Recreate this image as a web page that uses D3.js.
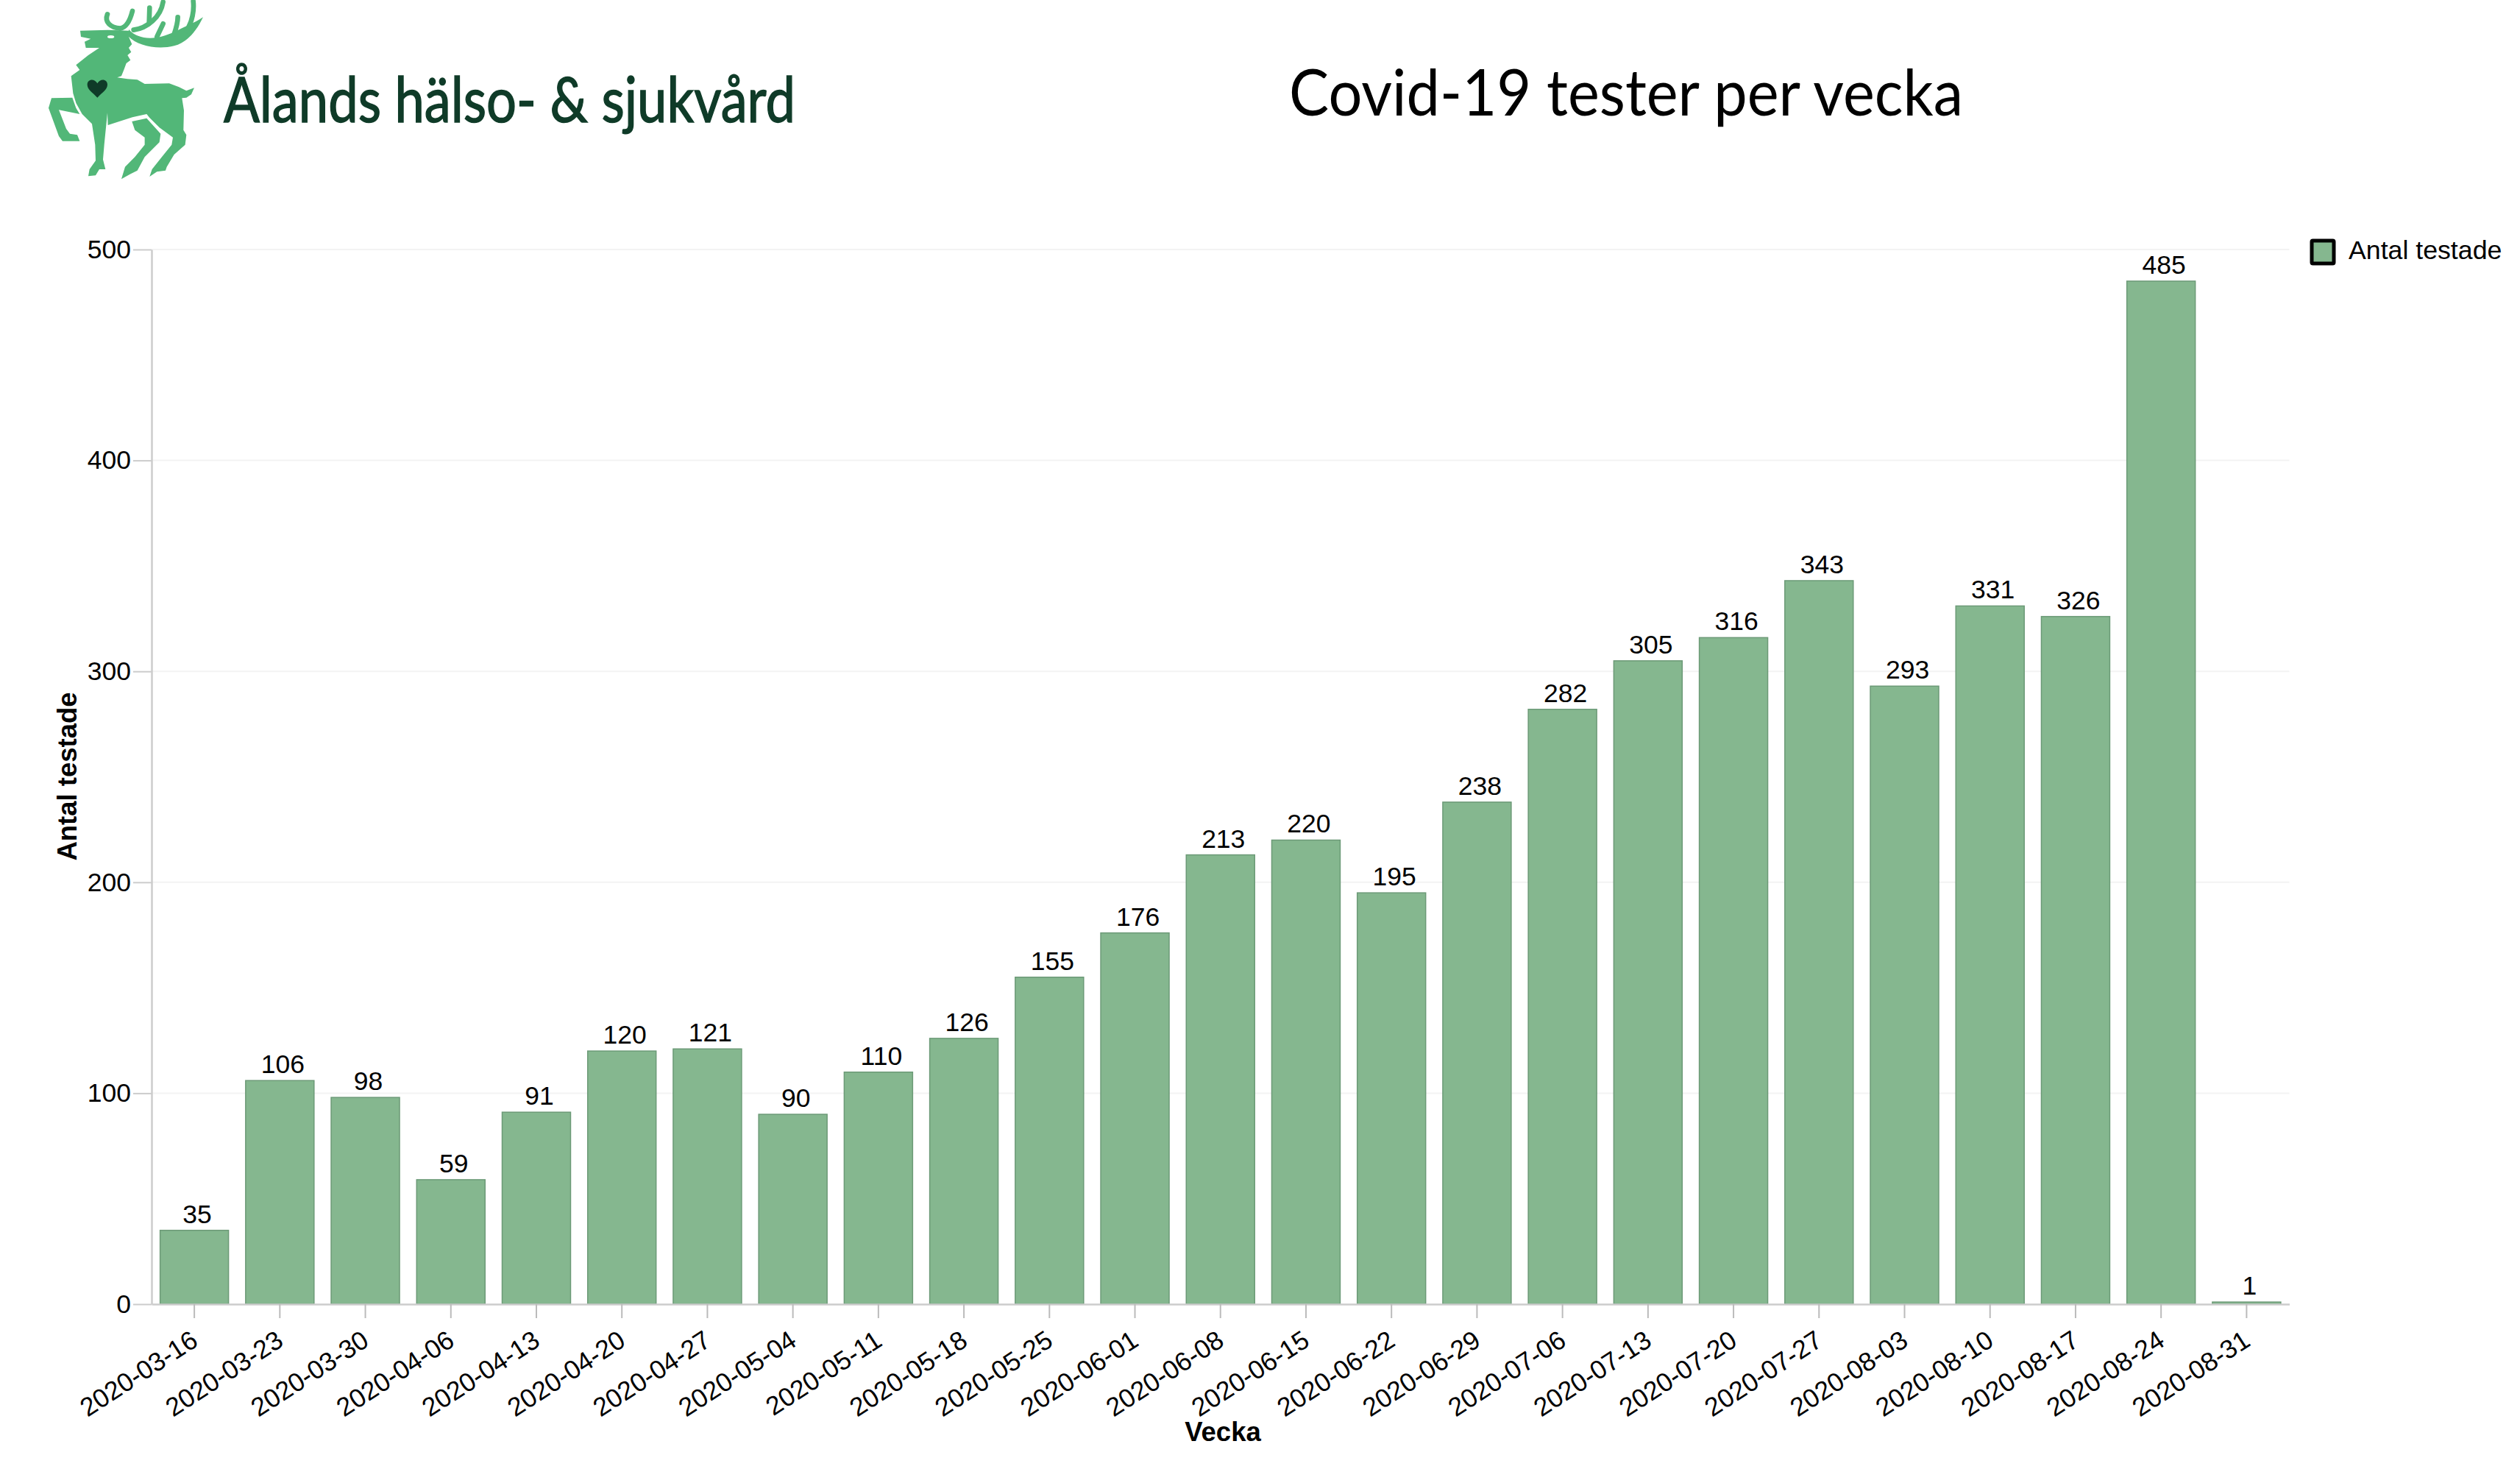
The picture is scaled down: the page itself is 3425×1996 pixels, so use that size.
<!DOCTYPE html>
<html><head><meta charset="utf-8">
<script src="https://cdn.jsdelivr.net/npm/d3@7"></script>
<style>html,body{margin:0;padding:0;background:#fff}svg{display:block}</style>
</head><body><div id="c"></div>
<script>
const weeks = ["2020-03-16","2020-03-23","2020-03-30","2020-04-06","2020-04-13","2020-04-20","2020-04-27","2020-05-04","2020-05-11","2020-05-18","2020-05-25","2020-06-01","2020-06-08","2020-06-15","2020-06-22","2020-06-29","2020-07-06","2020-07-13","2020-07-20","2020-07-27","2020-08-03","2020-08-10","2020-08-17","2020-08-24","2020-08-31"];
const tested = [35,106,98,59,91,120,121,90,110,126,155,176,213,220,195,238,282,305,316,343,293,331,326,485,1];
const yTicks = [0,100,200,300,400,500];
const titleText = "Covid-19 tester per vecka";
const logoText = "Ålands hälso- & sjukvård";
const xTitle = "Vecka";
const yTitle = "Antal testade";
const legendLabel = "Antal testade";

const W=3425,H=1996;
const m={l:206,r:3111.5,t:339,b:1772};
const svg=d3.select("#c").append("svg").attr("width",W).attr("height",H).attr("viewBox",[0,0,W,H]);
const sans="'Liberation Sans',Arial,sans-serif";
const x=d3.scaleBand().domain(weeks).range([m.l,m.r]).paddingInner(0.2).paddingOuter(0.1);
const y=d3.scaleLinear().domain([0,500]).range([m.b,m.t]);

// logo
const deerGreen="#52b778",dark="#0f3b28";
const logo=svg.append("g").attr("transform","translate(40,0) scale(0.3333)");
const deerShapes=[
"M207,125 L320,122 L405,125 L405,150 L418,180 L405,195 L415,212 L400,225 L412,245 L395,258 L385,285 L375,310 L358,316 L400,322 L440,325 L470,342 L570,340 L610,355 L640,370 L672,358 L660,385 L640,398 L622,400 L630,450 L628,530 L640,550 L635,590 L590,630 L560,680 L555,695 L520,700 L490,720 L500,690 L540,640 L580,590 L585,560 L530,520 L490,480 L478,465 L420,478 L320,510 L318,460 L305,590 L300,650 L310,690 L285,690 L270,715 L240,718 L245,690 L270,655 L268,590 L255,505 L215,465 L190,420 L178,380 L170,310 L205,285 L190,265 L240,225 L285,195 L230,195 L225,170 L250,158 L210,150 Z",
"M418,495 L478,482 L535,545 L530,580 L470,640 L440,695 L410,710 L375,730 L390,680 L430,640 L470,590 L470,560 L430,530 Z",
"M90,400 L175,398 L190,440 L205,465 L120,448 L150,525 L165,545 L195,550 L205,575 L135,575 L120,555 L78,440 Z",
"M405,120 C445,165 520,165 590,130 C640,105 680,90 708,70 C680,130 640,175 590,187 C520,205 440,185 405,150 Z"];
logo.selectAll("path.b").data(deerShapes).join("path").attr("class","b").attr("d",d=>d).attr("fill",deerGreen);
const antlers=[
"M425,122 C480,115 535,70 545,8",
"M490,32 L488,95","M520,150 L545,97","M590,140 C600,110 605,90 605,70","M640,125 C665,90 672,40 668,5",
"M318,58 C305,90 330,112 370,116 C395,112 410,85 420,45"];
logo.selectAll("path.a").data(antlers).join("path").attr("class","a").attr("d",d=>d).attr("fill","none").attr("stroke",deerGreen).attr("stroke-width",20).attr("stroke-linecap","round");
logo.append("ellipse").attr("cx",332).attr("cy",150).attr("rx",14).attr("ry",6).attr("fill","#fff");
logo.append("path").attr("d","M277,398 C255,375 236,365 236,345 C236,322 265,318 277,340 C289,318 318,322 318,345 C318,365 299,375 277,398 Z").attr("fill",dark);
svg.append("text").attr("x",304).attr("y",166).attr("font-family","Lato").attr("font-size",86).attr("fill",dark)
  .attr("stroke",dark).attr("stroke-width",1.5)
  .attr("textLength",777).attr("lengthAdjust","spacingAndGlyphs").text(logoText);

// title
svg.append("text").attr("x",1752).attr("y",157).attr("font-family","Lato").attr("font-size",88).attr("fill","#000")
  .attr("textLength",916).attr("lengthAdjust","spacingAndGlyphs").text(titleText);

// grid
svg.append("g").selectAll("line").data(yTicks.slice(1)).join("line")
  .attr("x1",m.l).attr("x2",m.r).attr("y1",d=>y(d)).attr("y2",d=>y(d)).attr("stroke","#f3f3f3").attr("stroke-width",2);

// bars
svg.append("g").selectAll("rect").data(weeks).join("rect")
  .attr("x",d=>x(d)).attr("width",x.bandwidth()).attr("y",(d,i)=>y(tested[i])).attr("height",(d,i)=>m.b-y(tested[i]))
  .attr("fill","#85b78f").attr("stroke","#6c9a77").attr("stroke-width",1.5);

// axes
const fs=35.5;
const ax=svg.append("g").attr("transform",`translate(0,${m.b})`).call(d3.axisBottom(x).tickSize(19).tickSizeOuter(0).tickPadding(8));
ax.select(".domain").attr("stroke","#ccc").attr("stroke-width",2.5);
ax.selectAll(".tick line").attr("stroke","#bbb").attr("stroke-width",2);
ax.selectAll("text").attr("font-family",sans).attr("font-size",fs).attr("fill","#000").attr("text-anchor","end")
  .attr("transform","rotate(-33)").attr("dy",0).attr("x",-24).attr("y",50);
const ay=svg.append("g").attr("transform",`translate(${m.l},0)`).call(d3.axisLeft(y).tickValues(yTicks).tickSize(25).tickSizeOuter(0).tickPadding(3));
ay.select(".domain").attr("stroke","#ccc").attr("stroke-width",2.5);
ay.selectAll(".tick line").attr("stroke","#ccc").attr("stroke-width",2);
ay.selectAll("text").attr("font-family",sans).attr("font-size",fs).attr("fill","#000");

// value labels
svg.append("g").selectAll("text").data(weeks).join("text")
  .attr("x",d=>x(d)+x.bandwidth()/2+4).attr("y",(d,i)=>y(tested[i])-10).attr("text-anchor","middle")
  .attr("font-family",sans).attr("font-size",fs).attr("fill","#000").text((d,i)=>tested[i]);

// axis titles
svg.append("text").attr("x",1662).attr("y",1958).attr("text-anchor","middle").attr("font-family",sans).attr("font-weight","bold").attr("font-size",36.5).text(xTitle);
svg.append("text").attr("transform","translate(104,1055) rotate(-90)").attr("text-anchor","middle").attr("font-family",sans).attr("font-weight","bold").attr("font-size",36.5).text(yTitle);

// legend
svg.append("rect").attr("x",3142).attr("y",327).attr("width",30).attr("height",31).attr("fill","#85b78f").attr("stroke","#000").attr("stroke-width",5).attr("rx",1.5);
svg.append("text").attr("x",3192).attr("y",352).attr("font-family",sans).attr("font-size",35.7).text(legendLabel);
</script></body></html>
